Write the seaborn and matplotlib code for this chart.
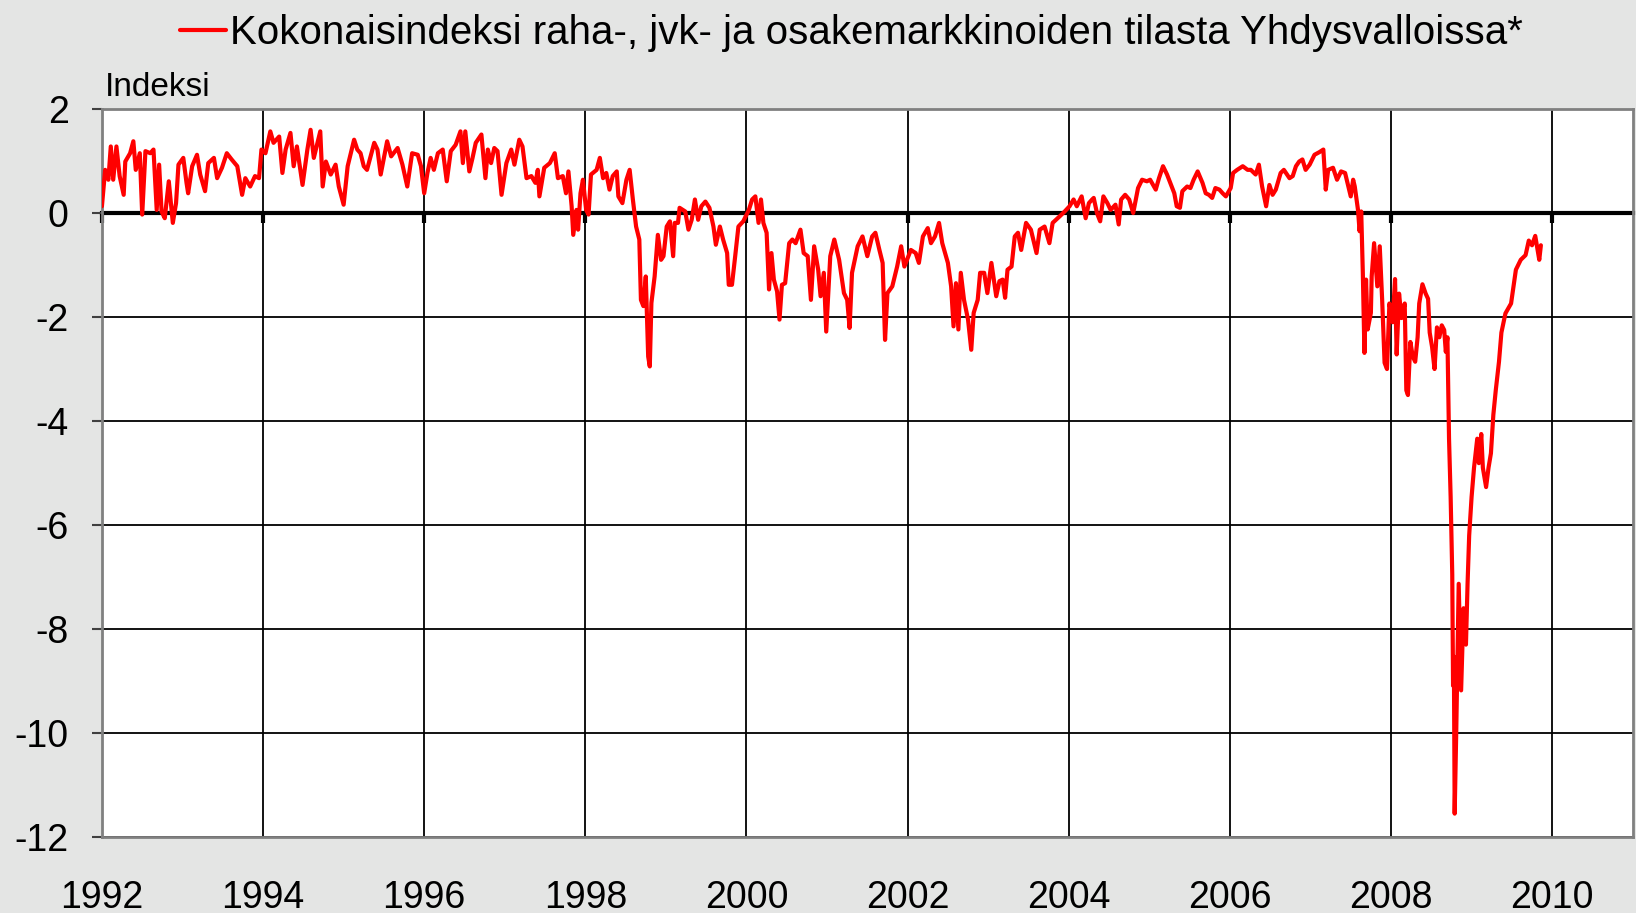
import pandas as pd
import matplotlib.pyplot as plt
import seaborn as sns

# Values (decimal years, index value)
years = [
    1992.00, 1992.04, 1992.08, 1992.11, 1992.14, 1992.18, 1992.22, 1992.27, 1992.29, 1992.35,
    1992.39, 1992.42, 1992.47, 1992.50, 1992.54, 1992.60, 1992.64, 1992.68, 1992.71, 1992.74,
    1992.78, 1992.83, 1992.88, 1992.92, 1992.95, 1993.01, 1993.05, 1993.07, 1993.12, 1993.18,
    1993.22, 1993.28, 1993.32, 1993.39, 1993.43, 1993.49, 1993.55, 1993.61, 1993.68, 1993.74,
    1993.78, 1993.84, 1993.90, 1993.95, 1993.98, 1994.03, 1994.09, 1994.13, 1994.20, 1994.24,
    1994.28, 1994.34, 1994.38, 1994.42, 1994.49, 1994.55, 1994.59, 1994.63, 1994.71, 1994.74,
    1994.78, 1994.84, 1994.90, 1994.94, 1995.00, 1995.05, 1995.13, 1995.17, 1995.21, 1995.25,
    1995.29, 1995.38, 1995.42, 1995.46, 1995.54, 1995.59, 1995.67, 1995.73, 1995.79,
    # 1996-1999
    1995.85, 1995.92, 1995.96, 1996.00, 1996.04, 1996.08, 1996.12, 1996.17, 1996.23, 1996.28,
    1996.33, 1996.39, 1996.45, 1996.48, 1996.51, 1996.56, 1996.60, 1996.64, 1996.71, 1996.76,
    1996.79, 1996.83, 1996.87, 1996.91, 1996.96, 1997.02, 1997.08, 1997.12, 1997.18, 1997.22,
    1997.27, 1997.33, 1997.38, 1997.41, 1997.43, 1997.49, 1997.56, 1997.62, 1997.66, 1997.72,
    1997.76, 1997.79, 1997.83, 1997.85, 1997.89, 1997.91, 1997.94, 1997.97, 1998.01, 1998.04,
    1998.07, 1998.14, 1998.18, 1998.22, 1998.26, 1998.30, 1998.34, 1998.39, 1998.41, 1998.46,
    1998.51, 1998.55, 1998.59, 1998.63, 1998.67, 1998.69, 1998.72, 1998.75, 1998.78, 1998.80,
    1998.82, 1998.86, 1998.88, 1998.90, 1998.94, 1998.97, 1999.01, 1999.05, 1999.09, 1999.11,
    1999.15, 1999.17, 1999.24, 1999.28, 1999.32, 1999.36, 1999.40, 1999.44, 1999.49, 1999.54,
    1999.59, 1999.62, 1999.67, 1999.71, 1999.76, 1999.78, 1999.82, 1999.86, 1999.90, 1999.96,
    2000.03, 2000.07,
    # 2000-2003
    2000.11, 2000.15, 2000.18, 2000.21, 2000.25, 2000.28, 2000.31, 2000.34, 2000.38, 2000.41,
    2000.44, 2000.48, 2000.53, 2000.57, 2000.61, 2000.67, 2000.71, 2000.76, 2000.80, 2000.84,
    2000.89, 2000.92, 2000.96, 2000.99, 2001.04, 2001.09, 2001.15, 2001.21, 2001.25, 2001.28,
    2001.31, 2001.38, 2001.44, 2001.50, 2001.56, 2001.60, 2001.65, 2001.69, 2001.72, 2001.75,
    2001.81, 2001.87, 2001.92, 2001.96, 2002.04, 2002.10, 2002.14, 2002.19, 2002.25, 2002.29,
    2002.34, 2002.39, 2002.43, 2002.50, 2002.54, 2002.57, 2002.60, 2002.63, 2002.66, 2002.70,
    2002.75, 2002.79, 2002.82, 2002.87, 2002.90, 2002.95, 2002.99, 2003.04, 2003.10, 2003.14,
    2003.18, 2003.21, 2003.24, 2003.29, 2003.33, 2003.37, 2003.41, 2003.47, 2003.53, 2003.60,
    2003.64, 2003.70, 2003.76, 2003.80, 2003.89, 2003.95, 2004.01,
    # 2004-2007
    2004.06, 2004.10, 2004.16, 2004.21, 2004.25, 2004.29, 2004.31, 2004.35, 2004.39, 2004.43,
    2004.48, 2004.52, 2004.58, 2004.62, 2004.65, 2004.70, 2004.75, 2004.80, 2004.86, 2004.91,
    2004.97, 2005.01, 2005.08, 2005.12, 2005.17, 2005.22, 2005.26, 2005.31, 2005.34, 2005.38,
    2005.41, 2005.47, 2005.51, 2005.55, 2005.60, 2005.66, 2005.70, 2005.74, 2005.78, 2005.82,
    2005.87, 2005.91, 2005.95, 2006.01, 2006.04, 2006.09, 2006.16, 2006.22, 2006.26, 2006.32,
    2006.36, 2006.40, 2006.45, 2006.49, 2006.53, 2006.57, 2006.63, 2006.67, 2006.74, 2006.78,
    2006.82, 2006.86, 2006.90, 2006.94, 2006.99, 2007.05, 2007.11, 2007.16, 2007.19, 2007.22,
    2007.28, 2007.33, 2007.38, 2007.43, 2007.47, 2007.50, 2007.53, 2007.55, 2007.59, 2007.61,
    2007.63, 2007.65, 2007.67, 2007.69, 2007.71, 2007.75, 2007.76, 2007.79, 2007.83, 2007.86,
    2007.89, 2007.92,
    # 2008-2009
    2007.95, 2007.98, 2008.02, 2008.05, 2008.07, 2008.10, 2008.13, 2008.17, 2008.19, 2008.21,
    2008.24, 2008.27, 2008.30, 2008.33, 2008.35, 2008.39, 2008.43, 2008.46, 2008.48, 2008.51,
    2008.54, 2008.57, 2008.60, 2008.63, 2008.66, 2008.68, 2008.70, 2008.72, 2008.74, 2008.76,
    2008.77, 2008.78, 2008.79, 2008.81, 2008.84, 2008.87, 2008.90, 2008.93, 2008.95, 2008.97,
    2009.00, 2009.03, 2009.07, 2009.09, 2009.12, 2009.14, 2009.18, 2009.21, 2009.24, 2009.27,
    2009.30, 2009.34, 2009.37, 2009.42, 2009.49, 2009.55, 2009.61, 2009.67, 2009.71, 2009.75,
    2009.79, 2009.84, 2009.86,
]
values = [
    0.13, 0.83, 0.64, 1.28, 0.64, 1.28, 0.71, 0.35, 0.99, 1.15,
    1.38, 0.83, 1.15, -0.03, 1.19, 1.15, 1.22, 0.06, 0.93, 0.03,
    -0.10, 0.61, -0.19, 0.19, 0.93, 1.06, 0.58, 0.38, 0.90, 1.12,
    0.74, 0.42, 0.96, 1.06, 0.67, 0.87, 1.15, 1.03, 0.90, 0.35,
    0.67, 0.51, 0.71, 0.67, 1.22, 1.15, 1.57, 1.35, 1.47, 0.77,
    1.22, 1.54, 0.90, 1.28, 0.54, 1.22, 1.60, 1.06, 1.57, 0.51,
    0.99, 0.74, 0.93, 0.51, 0.16, 0.90, 1.41, 1.22, 1.15, 0.90,
    0.83, 1.35, 1.22, 0.74, 1.38, 1.09, 1.25, 0.93, 0.51,
    # 1996-1999
    1.15, 1.12, 0.90, 0.38, 0.77, 1.06, 0.83, 1.15, 1.22, 0.61,
    1.19, 1.31, 1.57, 0.96, 1.57, 0.80, 1.06, 1.35, 1.51, 0.67,
    1.22, 0.96, 1.25, 1.19, 0.35, 0.96, 1.22, 0.93, 1.41, 1.28,
    0.67, 0.71, 0.58, 0.83, 0.32, 0.87, 0.96, 1.15, 0.67, 0.71,
    0.38, 0.80, 0.13, -0.42, 0.06, -0.32, 0.38, 0.64, 0.06, -0.03,
    0.74, 0.83, 1.06, 0.67, 0.77, 0.45, 0.71, 0.80, 0.32, 0.19,
    0.64, 0.83, 0.26, -0.26, -0.51, -1.67, -1.79, -1.22, -2.76, -2.95,
    -1.73, -1.22, -0.83, -0.42, -0.90, -0.83, -0.26, -0.16, -0.83, -0.19,
    -0.19, 0.10, 0.03, -0.32, -0.13, 0.26, -0.13, 0.13, 0.22, 0.10,
    -0.26, -0.61, -0.26, -0.51, -0.77, -1.38, -1.38, -0.83, -0.26, -0.16,
    0.06, 0.26,
    # 2000-2003
    0.32, -0.19, 0.26, -0.19, -0.38, -1.47, -0.77, -1.28, -1.51, -2.05,
    -1.38, -1.35, -0.58, -0.51, -0.58, -0.32, -0.77, -0.83, -1.67, -0.64,
    -1.09, -1.60, -1.15, -2.28, -0.83, -0.51, -0.90, -1.54, -1.67, -2.21,
    -1.15, -0.64, -0.45, -0.83, -0.45, -0.38, -0.71, -0.96, -2.44, -1.54,
    -1.41, -1.03, -0.64, -1.03, -0.71, -0.77, -0.96, -0.45, -0.29, -0.58,
    -0.45, -0.19, -0.58, -0.96, -1.41, -2.18, -1.35, -2.24, -1.15, -1.67,
    -2.05, -2.63, -1.92, -1.67, -1.15, -1.15, -1.54, -0.96, -1.60, -1.31,
    -1.28, -1.63, -1.09, -1.03, -0.45, -0.38, -0.71, -0.19, -0.32, -0.77,
    -0.32, -0.26, -0.58, -0.19, -0.06, 0.03, 0.13,
    # 2004-2007
    0.26, 0.13, 0.32, -0.10, 0.19, 0.26, 0.29, 0.00, -0.16, 0.32,
    0.19, 0.06, 0.16, -0.22, 0.26, 0.35, 0.26, 0.00, 0.48, 0.64,
    0.61, 0.64, 0.45, 0.67, 0.90, 0.74, 0.58, 0.38, 0.13, 0.10,
    0.42, 0.51, 0.48, 0.64, 0.80, 0.58, 0.38, 0.35, 0.29, 0.48,
    0.45, 0.38, 0.32, 0.48, 0.77, 0.83, 0.90, 0.83, 0.83, 0.74,
    0.93, 0.51, 0.13, 0.54, 0.35, 0.45, 0.77, 0.83, 0.67, 0.71,
    0.90, 0.99, 1.03, 0.83, 0.93, 1.12, 1.17, 1.22, 0.45, 0.83,
    0.87, 0.64, 0.80, 0.77, 0.51, 0.32, 0.64, 0.51, 0.06, -0.35,
    0.03, -1.15, -2.69, -1.28, -2.24, -1.92, -1.22, -0.58, -1.41, -0.64,
    -1.67, -2.88,
    # 2008-2009
    -3.00, -1.74, -2.10, -1.27, -2.72, -1.55, -2.02, -1.74, -3.41, -3.50,
    -2.48, -2.76, -2.86, -2.39, -1.74, -1.37, -1.55, -1.65, -2.30, -2.58,
    -3.00, -2.20, -2.39, -2.16, -2.25, -2.67, -2.39, -4.34, -5.46, -6.95,
    -9.09, -8.53, -11.55, -9.93, -7.13, -9.18, -7.60, -8.30, -7.13, -6.20,
    -5.46, -4.90, -4.34, -4.81, -4.25, -4.90, -5.27, -4.90, -4.62, -3.88,
    -3.41, -2.86, -2.30, -1.93, -1.74, -1.09, -0.90, -0.81, -0.53, -0.62,
    -0.44, -0.90, -0.62,
]

x_ticks = list(range(1992, 2011, 2))
y_ticks = list(range(-12, 3, 2))
series_name = "Kokonaisindeksi raha-, jvk- ja osakemarkkinoiden tilasta Yhdysvalloissa*"
unit_label = "Indeksi"

df = pd.DataFrame({'year': years, 'value': values})

sns.set_style('white')
plt.rcParams['font.family'] = ['Liberation Sans', 'DejaVu Sans']
plt.rcParams['axes.unicode_minus'] = False
plt.rcParams['text.color'] = 'black'
plt.rcParams['xtick.color'] = 'black'
plt.rcParams['ytick.color'] = 'black'

bg = '#e4e5e4'
fig = plt.figure(figsize=(16.36, 9.13), dpi=100, facecolor=bg)
ax = fig.add_axes([0.0623, 0.0832, 0.9357, 0.7974])
ax.set_facecolor('white')

sns.lineplot(data=df, x='year', y='value', color='#ff0000', linewidth=3.0,
             estimator=None, sort=False, ax=ax, label=series_name, zorder=5)

ax.set_xlim(1992, 2011)
ax.set_ylim(-12, 2)
ax.set_xticks(x_ticks)
ax.set_xticklabels([str(t) for t in x_ticks])
ax.set_yticks(y_ticks)
ax.set_yticklabels([str(t) for t in y_ticks])
ax.grid(True, color='black', linewidth=1.3)
ax.set_axisbelow(True)
ax.set_xlabel('')
ax.set_ylabel('')

ax.tick_params(axis='x', length=0, pad=31, labelsize=27, labelcolor='black')
ax.tick_params(axis='y', left=True, length=7, width=1.5, color='#404040',
               pad=17, labelsize=27, labelcolor='black')
for side in ['top', 'bottom', 'left', 'right']:
    ax.spines[side].set_visible(True)
    ax.spines[side].set_color('#808080')
    ax.spines[side].set_linewidth(2)

# zero line with its own small ticks
zero_ax = ax.secondary_xaxis(12 / 14)
zero_ax.set_alignment('bottom')
zero_ax.set_xticks(x_ticks)
zero_ax.tick_params(direction='out', length=7, width=3, color='black',
                    labelbottom=False, labeltop=False)
zero_ax.spines['bottom'].set_color('black')
zero_ax.spines['bottom'].set_linewidth(3)

handles, labels = ax.get_legend_handles_labels()
ax.get_legend().remove()
fig.legend(handles, labels, loc='center', bbox_to_anchor=(0.5205, 0.964),
           frameon=False, fontsize=29, handlelength=1.15, handletextpad=0.1,
           borderpad=0, borderaxespad=0, labelcolor='black')

fig.text(105 / 1636, 1 - 87 / 913, unit_label, va='center', ha='left', fontsize=24)

plt.savefig('out.png', dpi=100, facecolor=bg)
